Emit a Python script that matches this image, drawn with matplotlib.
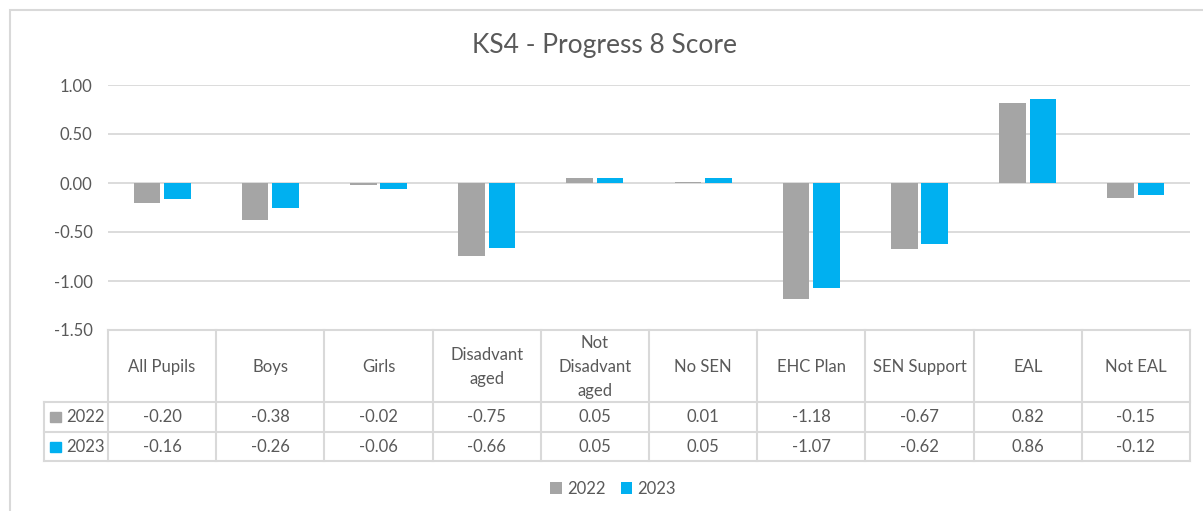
import matplotlib
matplotlib.use("Agg")
import matplotlib.pyplot as plt
import numpy as np
from matplotlib.lines import Line2D
from matplotlib.patches import Rectangle
from matplotlib.transforms import blended_transform_factory

categories = ['All Pupils', 'Boys', 'Girls', 'Disadvant\naged', 'Not\nDisadvant\naged',
              'No SEN', 'EHC Plan', 'SEN Support', 'EAL', 'Not EAL']
vals_2022 = [-0.20, -0.38, -0.02, -0.75, 0.05, 0.01, -1.18, -0.67, 0.82, -0.15]
vals_2023 = [-0.16, -0.26, -0.06, -0.66, 0.05, 0.05, -1.07, -0.62, 0.86, -0.12]
series = ['2022', '2023']
colors = ['#A5A5A5', '#00B0F0']

W, H = 1203, 511
plt.rcParams['font.family'] = ['Lato', 'DejaVu Sans']
txt = '#595959'
grid = '#D9D9D9'
fs = 12


def fy(py):
    return 1 - py / H


fig = plt.figure(figsize=(W / 100, H / 100), dpi=100)
ax = fig.add_axes([108 / W, fy(330), (1190 - 108) / W, (330 - 85) / H])

x = np.arange(len(categories))
bw = 0.245
ax.bar(x - 0.14, vals_2022, bw, color=colors[0], label=series[0])
ax.bar(x + 0.14, vals_2023, bw, color=colors[1], label=series[1])

ax.set_xlim(-0.5, len(categories) - 0.5)
ax.set_ylim(-1.5, 1.0)
ax.set_yticks(np.arange(-1.5, 1.01, 0.5))
ax.set_yticklabels(['%.2f' % v for v in np.arange(-1.5, 1.01, 0.5)])
ax.set_xticks([])
ax.tick_params(axis='y', length=0, pad=11, labelsize=fs, labelcolor=txt)
ax.grid(axis='y', color=grid, lw=1.3)
ax.set_axisbelow(True)
for s in ax.spines.values():
    s.set_visible(False)

fig.text(605 / W, fy(45), 'KS4 - Progress 8 Score', ha='center', va='center',
         fontsize=19, color=txt)

# data table under the plot
tr = blended_transform_factory(ax.transData, fig.transFigure)
xl = -0.5
xr = len(categories) - 0.5
x_lab = xl - (108 - 44) / ((1190 - 108) / len(categories))
rows_y = [330, 402, 432, 461]
lk = dict(color=grid, lw=1.5, transform=tr, clip_on=False)
fig.add_artist(Line2D([xl, xr], [fy(330)] * 2, **lk))
for py in rows_y[1:]:
    fig.add_artist(Line2D([x_lab, xr], [fy(py)] * 2, **lk))
fig.add_artist(Line2D([x_lab, x_lab], [fy(402), fy(461)], **lk))
for k in range(len(categories) + 1):
    fig.add_artist(Line2D([xl + k] * 2, [fy(330), fy(461)], **lk))

for i, c in enumerate(categories):
    fig.text(i, fy(367), c, transform=tr, ha='center', va='center',
             fontsize=fs, color=txt, linespacing=1.6)
    fig.text(i, fy(417), '%.2f' % vals_2022[i], transform=tr, ha='center',
             va='center', fontsize=fs, color=txt)
    fig.text(i, fy(447), '%.2f' % vals_2023[i], transform=tr, ha='center',
             va='center', fontsize=fs, color=txt)

for j, (name, col) in enumerate(zip(series, colors)):
    cy = [417, 447][j]
    fig.add_artist(Rectangle((50 / W, fy(cy + 5)), 11 / W, 10 / H, color=col,
                             transform=fig.transFigure))
    fig.text(66 / W, fy(cy), name, ha='left', va='center', fontsize=fs, color=txt)

fig.legend(loc='center', bbox_to_anchor=(613 / W, fy(489)), ncol=2, frameon=False,
           fontsize=fs, labelcolor=txt, handlelength=0.7, handleheight=0.7,
           handletextpad=0.3, columnspacing=0.9)

# chart frame
fig.add_artist(Rectangle((10 / W, -0.5), 2, 1.5 - 10 / H, fill=False,
                         edgecolor=grid, lw=1.5, transform=fig.transFigure))

fig.savefig('out.png', dpi=100, facecolor='white')
